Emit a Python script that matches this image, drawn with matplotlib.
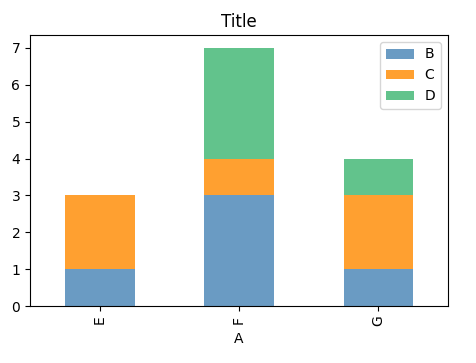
import numpy as np
import matplotlib
matplotlib.use('Agg')
import matplotlib.pyplot as plt

categories = ['E', 'F', 'G']
b_vals = [1, 3, 1]
c_vals = [2, 1, 2]
d_vals = [0, 3, 1]
series_names = ['B', 'C', 'D']
colors = ['#6a9bc3', '#ffa030', '#62c38c']

fig = plt.figure(figsize=(4.77, 3.63), dpi=100)
ax = fig.add_axes([30/477, 1-306/363, 418/477, 271/363])

x = np.arange(len(categories))
bottom = np.zeros(len(categories))
for name, vals, col in zip(series_names, [b_vals, c_vals, d_vals], colors):
    ax.bar(x, vals, width=0.5, bottom=bottom, color=col, label=name)
    bottom += np.array(vals)

ax.set_xlim(-0.5, 2.5)
ax.set_ylim(0, bottom.max()*1.05)
ax.set_xticks(x)
ax.set_xticklabels(categories, rotation=90)
ax.set_xlabel('A')
ax.set_title('Title')
ax.legend(loc='upper right')

plt.savefig('out.png', dpi=100)
